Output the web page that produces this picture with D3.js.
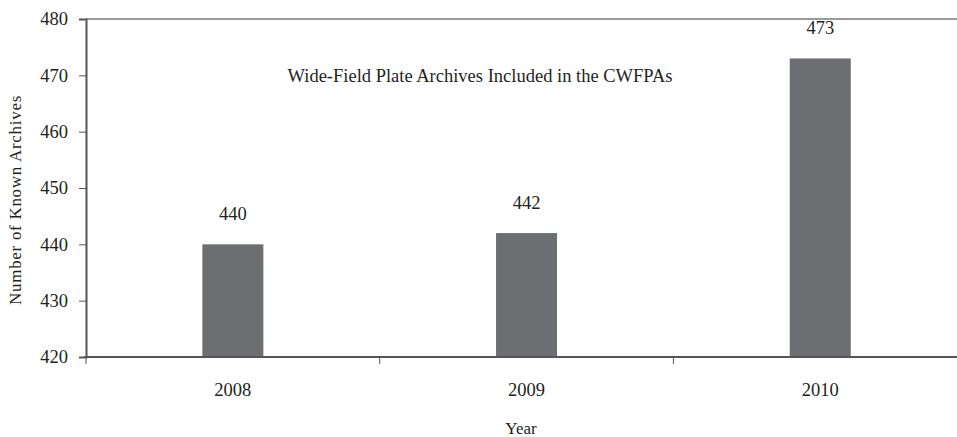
<!DOCTYPE html>
<html><head><meta charset="utf-8">
<script src="https://cdn.jsdelivr.net/npm/d3@7"></script>
<style>body{margin:0;background:#fff}svg{display:block}text{font-family:"Liberation Serif","DejaVu Serif",serif;fill:#231f20}</style>
</head><body><svg id="c" width="957" height="437"></svg>
<script>
const categories = ["2008", "2009", "2010"];
const values = [440, 442, 473];
const yTicks = [420, 430, 440, 450, 460, 470, 480];
const title = "Wide-Field Plate Archives Included in the CWFPAs";

const svg = d3.select("#c");
const mLeft = 86, mTop = 19, mBottom = 357, bandW = 293.7;
const FS = 18.5;
const x = d3.scaleBand().domain(categories).range([mLeft, mLeft + bandW * 3]).padding(0);
const y = d3.scaleLinear().domain([420, 480]).range([mBottom, mTop]);

// top border
svg.append("line").attr("x1", mLeft).attr("x2", 957).attr("y1", y(480)).attr("y2", y(480))
  .attr("stroke", "#9a9a9a").attr("stroke-width", 2);

// bars
const bw = 61;
svg.selectAll("rect.bar").data(values).join("rect")
  .attr("x", (d, i) => x(categories[i]) + x.bandwidth() / 2 - bw / 2)
  .attr("width", bw)
  .attr("y", d => y(d)).attr("height", d => y(420) - y(d))
  .attr("fill", "#6d6e71");

// value labels
svg.selectAll("text.val").data(values).join("text")
  .attr("x", (d, i) => x(categories[i]) + x.bandwidth() / 2)
  .attr("y", d => y(d) - 24)
  .attr("text-anchor", "middle").attr("font-size", FS).text(d => d);

// y axis
const ya = svg.append("g").attr("transform", `translate(${mLeft},0)`)
  .call(d3.axisLeft(y).tickValues(yTicks).tickSize(7).tickPadding(11));
ya.attr("font-family", null).attr("font-size", null);
ya.select(".domain").attr("stroke", "#555").attr("stroke-width", 2);
ya.selectAll(".tick line").attr("stroke", "#555");
ya.selectAll(".tick text").attr("font-size", FS).attr("fill", "#231f20");

// x axis
svg.append("line").attr("x1", mLeft - 2).attr("x2", 957).attr("y1", mBottom).attr("y2", mBottom)
  .attr("stroke", "#555").attr("stroke-width", 2);
const bounds = categories.map(c => x(c)).concat([x(categories[2]) + x.bandwidth()]);
svg.selectAll("line.xt").data(bounds).join("line")
  .attr("x1", d => d).attr("x2", d => d).attr("y1", mBottom).attr("y2", mBottom + 7)
  .attr("stroke", "#555");
svg.selectAll("text.xl").data(categories).join("text")
  .attr("x", d => x(d) + x.bandwidth() / 2).attr("y", mBottom + 39)
  .attr("text-anchor", "middle").attr("font-size", FS).text(d => d);

// axis titles
svg.append("text").attr("x", 521).attr("y", 434).attr("text-anchor", "middle")
  .attr("font-size", 17).text("Year");
svg.append("text").attr("transform", `translate(21,${(mTop + mBottom) / 2 + 12}) rotate(-90)`)
  .attr("text-anchor", "middle").attr("font-size", 17).attr("letter-spacing", 0.7)
  .text("Number of Known Archives");

// chart title
svg.append("text").attr("x", 480).attr("y", 82).attr("text-anchor", "middle")
  .attr("font-size", FS).text(title);
</script></body></html>
